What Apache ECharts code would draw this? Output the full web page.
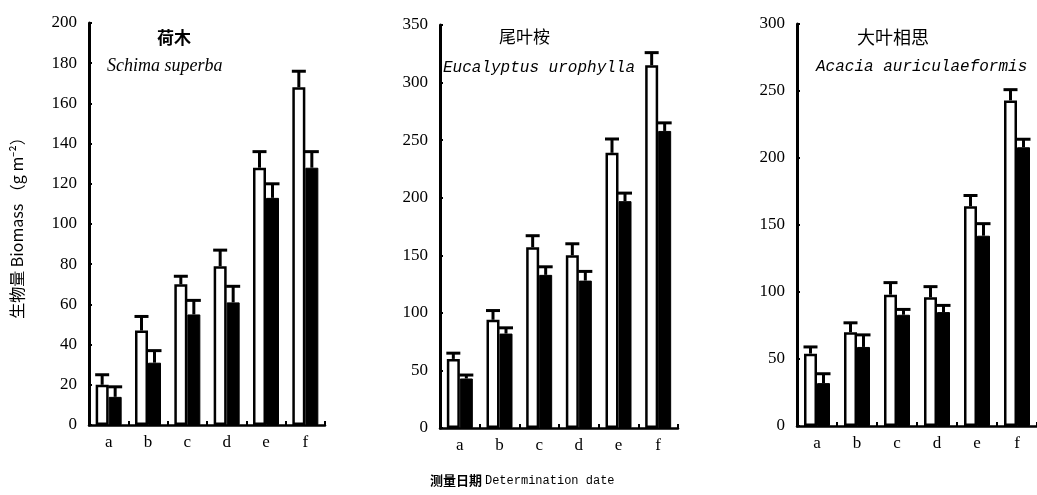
<!DOCTYPE html>
<html>
<head>
<meta charset="utf-8">
<script src="https://cdn.jsdelivr.net/npm/echarts@6/dist/echarts.min.js"></script>
<style>
  html, body { margin: 0; padding: 0; background: #fff; }
  #chart { width: 1037px; height: 495px; }
</style>
</head>
<body>
<div id="chart"></div>
<script>
'use strict';

// ---- data ----
const dates = ['a', 'b', 'c', 'd', 'e', 'f'];

const schimaOpen = [20, 47, 70, 79, 128, 168];
const schimaOpenErr = [5, 7, 4, 8, 8, 8];
const schimaSolid = [14, 31, 55, 61, 113, 128];
const schimaSolidErr = [5, 6, 7, 8, 7, 8];

const eucOpen = [60, 94, 157, 150, 239, 315];
const eucOpenErr = [5, 8, 10, 10, 12, 11];
const eucSolid = [43, 82, 133, 128, 197, 258];
const eucSolidErr = [3, 5, 7, 8, 7, 7];

const acaciaOpen = [54, 70, 98, 96, 164, 243];
const acaciaOpenErr = [5, 7, 9, 8, 8, 8];
const acaciaSolid = [32, 59, 83, 85, 142, 208];
const acaciaSolidErr = [7, 9, 4, 5, 9, 6];

const yMax = [200, 350, 300];
const yStep = [20, 50, 50];

// ---- styles ----
const INK = '#000';
const serif = '"Liberation Serif", "DejaVu Serif", serif';
const mono = '"Liberation Mono", "DejaVu Sans Mono", monospace';
const cjk = '"Noto Sans CJK SC", sans-serif';
const BW = 13;

const grids = [
  { left: 89, top: 23, width: 236, height: 402 },
  { left: 440, top: 25, width: 238, height: 403 },
  { left: 797, top: 24, width: 247, height: 402 },
];

const panels = [
  [schimaOpen, schimaOpenErr, schimaSolid, schimaSolidErr],
  [eucOpen, eucOpenErr, eucSolid, eucSolidErr],
  [acaciaOpen, acaciaOpenErr, acaciaSolid, acaciaSolidErr],
];

function errSeries(gi, mean, err, shift) {
  return {
    type: 'custom', xAxisIndex: gi, yAxisIndex: gi, z: 5, silent: true,
    data: mean.map((m, i) => [i, m, m + err[i]]),
    renderItem: (params, api) => {
      const base = api.coord([api.value(0), api.value(1)]);
      const top = api.coord([api.value(0), api.value(2)]);
      const x = base[0] + shift;
      return {
        type: 'group', children: [
          { type: 'line', shape: { x1: x, y1: base[1], x2: x, y2: top[1] }, style: { stroke: INK, lineWidth: 3 } },
          { type: 'line', shape: { x1: x - 7, y1: top[1], x2: x + 7, y2: top[1] }, style: { stroke: INK, lineWidth: 3 } },
        ],
      };
    },
  };
}

const xAxes = grids.map((g, i) => ({
  type: 'category', gridIndex: i, data: dates,
  axisLine: { lineStyle: { color: INK, width: 2.5 } },
  axisTick: { show: true, inside: true, length: 4, lineStyle: { color: INK, width: 2 } },
  axisLabel: { color: INK, fontFamily: serif, fontSize: 17, margin: 9 },
}));

const yAxes = grids.map((g, i) => ({
  type: 'value', gridIndex: i, min: 0, max: yMax[i], interval: yStep[i],
  axisLine: { show: true, lineStyle: { color: INK, width: 3 } },
  axisTick: { show: true, inside: true, length: 3, lineStyle: { color: INK, width: 2 } },
  axisLabel: { color: INK, fontFamily: serif, fontSize: 17, margin: 12 },
  splitLine: { show: false },
  ...(i === 0 ? {
    name: '生物量 Biomass （g m⁻²）', nameLocation: 'middle', nameRotate: 90, nameGap: 64,
    nameTextStyle: { color: INK, fontFamily: cjk, fontSize: 16 },
  } : {}),
}));

const series = [];
panels.forEach(([open, openErr, solid, solidErr], gi) => {
  series.push({
    type: 'bar', xAxisIndex: gi, yAxisIndex: gi, data: open, barWidth: BW, barGap: '0%',
    itemStyle: { color: '#fff', borderColor: INK, borderWidth: 2.5 },
  });
  series.push({
    type: 'bar', xAxisIndex: gi, yAxisIndex: gi, data: solid, barWidth: BW, barGap: '0%',
    itemStyle: { color: INK, borderColor: INK, borderWidth: 1 },
  });
  series.push(errSeries(gi, open, openErr, -BW / 2));
  series.push(errSeries(gi, solid, solidErr, BW / 2));
});

const t = (text, left, top, style) => ({ text, left, top, padding: 0, textStyle: { color: INK, fontWeight: 'normal', ...style } });

const chart = echarts.init(document.getElementById('chart'));
chart.setOption({
  backgroundColor: '#fff',
  animation: false,
  title: [
    t('荷木', 157, 29, { fontFamily: cjk, fontSize: 17, fontWeight: 'bold' }),
    t('Schima superba', 107, 57, { fontFamily: serif, fontStyle: 'italic', fontSize: 18 }),
    t('尾叶桉', 499, 28, { fontFamily: cjk, fontSize: 17 }),
    t('Eucalyptus urophylla', 443, 60, { fontFamily: mono, fontStyle: 'italic', fontSize: 16 }),
    t('大叶相思', 857, 28, { fontFamily: cjk, fontSize: 18 }),
    t('Acacia auriculaeformis', 816, 59, { fontFamily: mono, fontStyle: 'italic', fontSize: 16 }),
    t('{c|测量日期 }{m|Determination date}', 430, 474, {
      rich: {
        c: { fontFamily: cjk, fontSize: 13, fontWeight: 'bold', color: INK },
        m: { fontFamily: mono, fontSize: 12, fontWeight: 'normal', color: INK },
      },
    }),
  ],
  grid: grids,
  xAxis: xAxes,
  yAxis: yAxes,
  series,
});
</script>
</body>
</html>
